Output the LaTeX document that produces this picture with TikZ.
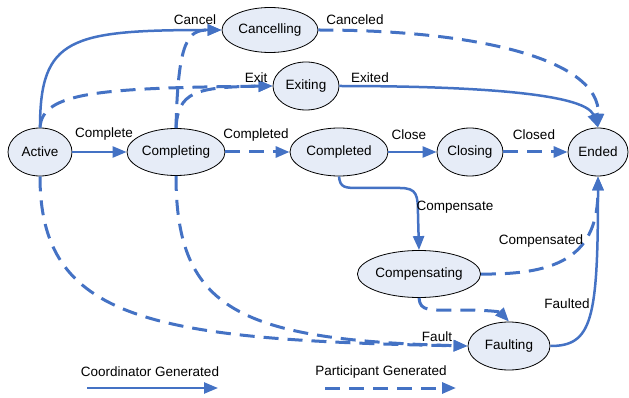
\documentclass[tikz,border=0pt]{standalone}
\usepackage{fontspec}
\setmainfont{Liberation Sans}
\usetikzlibrary{shapes.geometric,arrows.meta}
\definecolor{flow}{RGB}{68,114,196}
\definecolor{statefill}{RGB}{230,236,247}
\begin{document}
\begin{tikzpicture}[x=1pt,y=-1pt,
  every node/.style={font=\fontsize{13.5}{16}\selectfont},
  state/.style={ellipse,draw=black,line width=0.8pt,fill=statefill,inner sep=0pt},
  coord/.style={draw=flow,line width=2.5pt,-{Triangle[length=14pt,width=11pt]}},
  part/.style={draw=flow,line width=3pt,dash pattern=on 15pt off 9pt,-{Triangle[length=14pt,width=11pt]}},
  lbl/.style={inner sep=0pt}]
\useasboundingbox (0,0) rectangle (629,398);

% states
\node[state,minimum width=64pt,minimum height=48pt] (Active) at (40,152) {Active};
\node[state,minimum width=98pt,minimum height=47pt] (Completing) at (176,152) {Completing};
\node[state,minimum width=96pt,minimum height=45pt] (Cancelling) at (270,30) {Cancelling};
\node[state,minimum width=66pt,minimum height=48pt] (Exiting) at (306,86) {Exiting};
\node[state,minimum width=98pt,minimum height=48pt] (Completed) at (339,152) {Completed};
\node[state,minimum width=66pt,minimum height=48pt] (Closing) at (470,152) {Closing};
\node[state,minimum width=60pt,minimum height=48pt] (Ended) at (598,152) {Ended};
\node[state,minimum width=114pt,minimum height=47pt] (Compensating) at (419,274) {Compensating};
\node[state,minimum width=82pt,minimum height=48pt] (Faulting) at (509,346) {Faulting};

% straight transitions
\draw[coord] (Active) -- (Completing);
\draw[part] (Completing) -- (Completed);
\draw[coord] (Completed) -- (Closing);
\draw[part] (Closing) -- (Ended);

% towards Cancelling and Exiting
\draw[coord] (Active.north) .. controls (40,38) and (70,30) .. (Cancelling.west);
\draw[part] (Completing.north) .. controls (178,40) and (188,30) .. (Cancelling.west);
\draw[part] (Active.north) .. controls (42,92) and (100,88) .. (Exiting.west);
\draw[part] (Completing.north) .. controls (178,92) and (195,87) .. (Exiting.west);

% towards Ended from the top
\draw[part] (Cancelling.east) .. controls (480,30) and (600,60) .. (Ended.north);
\draw[coord] (Exiting.east) .. controls (460,86) and (585,92) .. (Ended.north);

% compensation branch
\draw[coord] (Completed.south) .. controls (340,188) and (345,188) .. (360,188)
  -- (400,188) .. controls (417,188) and (418,195) .. (418,215) -- (Compensating.north);
\draw[part] (Compensating.east) .. controls (560,275) and (598,255) .. (Ended.south);
\draw[part] (Compensating.south) .. controls (420,312) and (430,310) .. (460,310)
  .. controls (490,310) and (500,312) .. (Faulting.north);

% faults
\draw[part] (Active.south) .. controls (40,320) and (150,340) .. (Faulting.west);
\draw[part] (Completing.south) .. controls (176,310) and (240,340) .. (Faulting.west);
\draw[coord] (Faulting.east) .. controls (592,346) and (598,320) .. (Ended.south);

% transition labels
\node[lbl] (lCancel) at (195,20) {Cancel};
\node[lbl] (lCanceled) at (355,20) {Canceled};
\node[lbl] (lExit) at (256,78) {Exit};
\node[lbl] (lExited) at (370,78) {Exited};
\node[lbl] (lComplete) at (104,134) {Complete};
\node[lbl] (lCompleted) at (256,135) {Completed};
\node[lbl] (lClose) at (409,135) {Close};
\node[lbl] (lClosed) at (534,135) {Closed};
\node[lbl] (lCompensate) at (455,207) {Compensate};
\node[lbl] (lCompensated) at (541,241) {Compensated};
\node[lbl] (lFaulted) at (567,304) {Faulted};
\node[lbl] (lFault) at (437,337) {Fault};

% legend
\node[lbl] (legC) at (150,372) {Coordinator Generated};
\node[lbl] (legP) at (381,372) {Participant Generated};
\coordinate (c1) at (87,388);
\coordinate (c2) at (218,388);
\coordinate (p1) at (325,388);
\coordinate (p2) at (456,388);
\draw[coord] (c1) -- (c2);
\draw[part] (p1) -- (p2);
\end{tikzpicture}
\end{document}
